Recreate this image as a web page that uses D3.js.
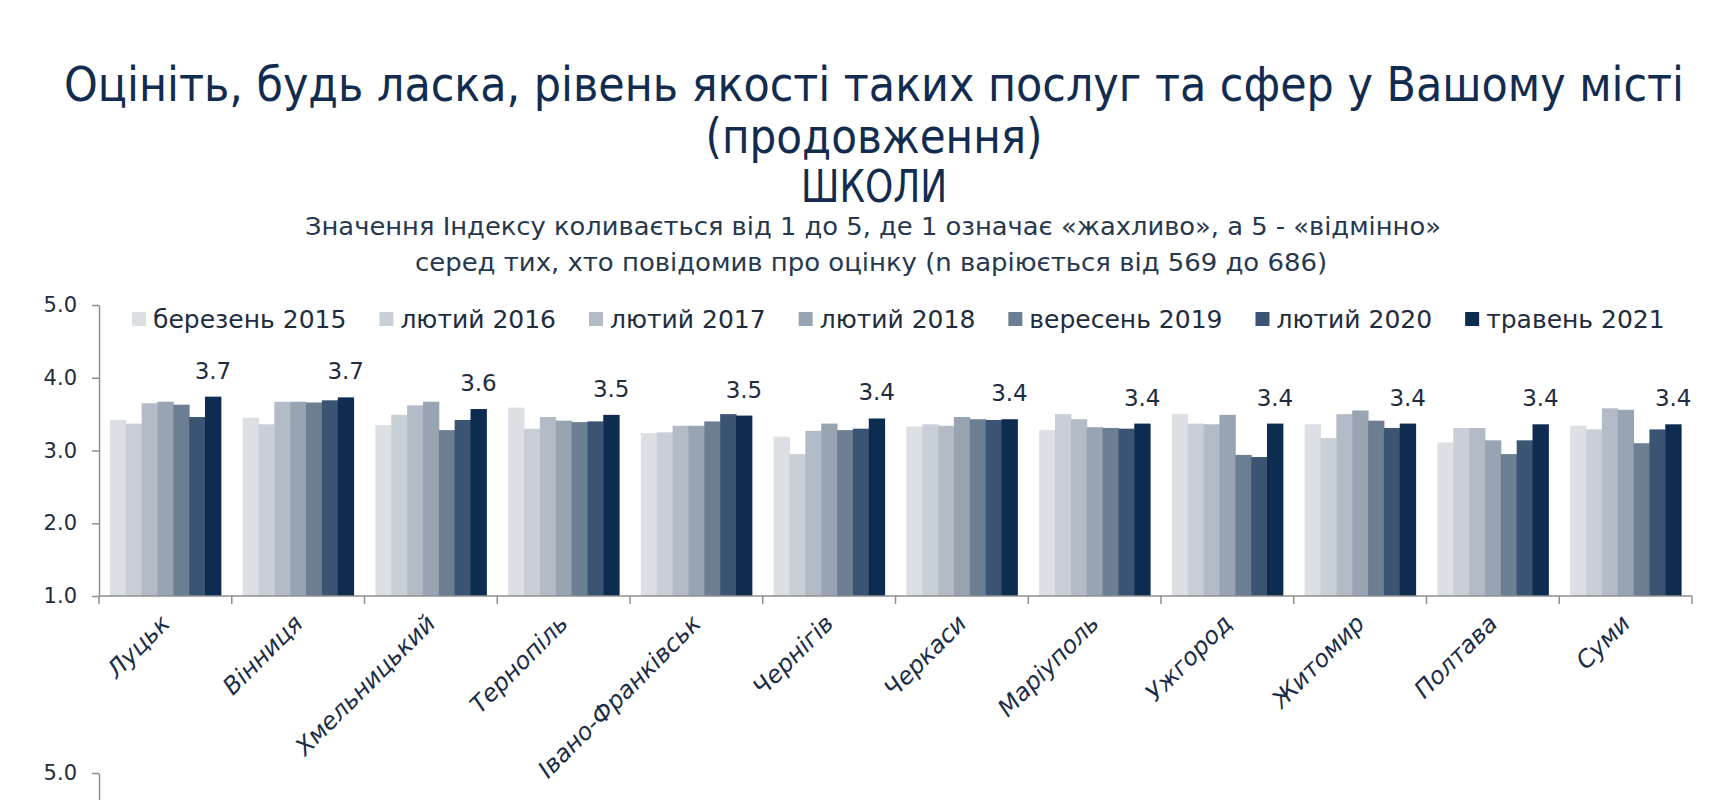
<!DOCTYPE html>
<html>
<head>
<meta charset="utf-8">
<script src="https://cdn.jsdelivr.net/npm/d3@7"></script>
<style>
  body { margin: 0; background: #fff; }
  svg { display: block; }
  .axis path, .axis line { stroke: #8f8f8f; stroke-width: 1.5; }
</style>
</head>
<body>
<div id="chart"></div>
<script>
// data
const cities = ["Луцьк", "Вінниця", "Хмельницький", "Тернопіль", "Івано-Франківськ", "Чернігів",
  "Черкаси", "Маріуполь", "Ужгород", "Житомир", "Полтава", "Суми"];
const waves = ["березень 2015", "лютий 2016", "лютий 2017", "лютий 2018", "вересень 2019", "лютий 2020", "травень 2021"];

const mar2015 = [3.42, 3.45, 3.35, 3.59, 3.24, 3.19, 3.33, 3.28, 3.50, 3.36, 3.11, 3.34];
const feb2016 = [3.37, 3.36, 3.49, 3.30, 3.25, 2.95, 3.36, 3.50, 3.37, 3.17, 3.31, 3.29];
const feb2017 = [3.65, 3.67, 3.62, 3.46, 3.34, 3.27, 3.34, 3.43, 3.36, 3.50, 3.31, 3.58];
const feb2018 = [3.67, 3.67, 3.67, 3.41, 3.34, 3.37, 3.46, 3.32, 3.49, 3.55, 3.14, 3.56];
const sep2019 = [3.63, 3.66, 3.28, 3.39, 3.40, 3.28, 3.43, 3.31, 2.94, 3.41, 2.95, 3.10];
const feb2020 = [3.46, 3.69, 3.42, 3.40, 3.50, 3.30, 3.42, 3.30, 2.91, 3.31, 3.14, 3.29];
const may2021 = [3.74, 3.73, 3.57, 3.49, 3.48, 3.44, 3.43, 3.37, 3.37, 3.37, 3.36, 3.36];
const series = [mar2015, feb2016, feb2017, feb2018, sep2019, feb2020, may2021];

const yTicks = [1, 2, 3, 4, 5];

const titleLines = ["Оцініть, будь ласка, рівень якості таких послуг та сфер у Вашому місті", "(продовження)", "ШКОЛИ"];
const subtitleLines = ["Значення Індексу коливається від 1 до 5, де 1 означає «жахливо», а 5 - «відмінно»",
  "серед тих, хто повідомив про оцінку (n варіюється від 569 до 686)"];

const colors = ["#dce0e5", "#c9cfd6", "#b3bcc6", "#98a4b2", "#6b7e92", "#3c5473", "#0e2b50"];

const width = 1732, height = 800;
const margin = {top: 305, left: 99, right: 40, bottom: 204};

const condensed = '"DejaVu Sans Condensed", "Liberation Sans Narrow", "DejaVu Sans", sans-serif';
const plain = '"DejaVu Sans", Verdana, sans-serif';

const svg = d3.select("#chart")
  .append("svg")
  .attr("width", width)
  .attr("height", height);

// titles
const titleBase = [101, 153, 202];
const titleSize = [48, 48, 44];
const titleWidth = [1620, 337, 146];
svg.selectAll("text.title")
  .data(titleLines)
  .enter()
  .append("text")
    .attr("class", "title")
    .attr("x", 874)
    .attr("y", (d, i) => titleBase[i])
    .attr("text-anchor", "middle")
    .style("font-family", condensed)
    .style("font-size", (d, i) => titleSize[i] + "px")
    .attr("fill", "#122c50")
    .text(d => d)
    .each(function(d, i) {
      const len = this.getComputedTextLength();
      if (Math.abs(len - titleWidth[i]) > 4) {
        d3.select(this).attr("textLength", titleWidth[i]).attr("lengthAdjust", "spacingAndGlyphs");
      }
    });

const subBase = [235, 271];
const subCenter = [873, 871];
const subWidth = [1136, 912];
svg.selectAll("text.subtitle")
  .data(subtitleLines)
  .enter()
  .append("text")
    .attr("class", "subtitle")
    .attr("x", (d, i) => subCenter[i])
    .attr("y", (d, i) => subBase[i])
    .attr("text-anchor", "middle")
    .style("font-family", condensed)
    .style("font-size", "25px")
    .attr("fill", "#26384f")
    .text(d => d)
    .each(function(d, i) {
      const len = this.getComputedTextLength();
      if (Math.abs(len - subWidth[i]) > 4) {
        d3.select(this).attr("textLength", subWidth[i]).attr("lengthAdjust", "spacingAndGlyphs");
      }
    });

// scales
const x0 = d3.scaleBand()
  .domain(cities)
  .range([margin.left, width - margin.right])
  .paddingInner(0.164)
  .paddingOuter(0.082);

const x1 = d3.scaleBand()
  .domain(d3.range(waves.length))
  .range([0, x0.bandwidth()]);

const yScale = d3.scaleLinear()
  .domain([1, 5])
  .range([height - margin.bottom, margin.top]);

const color = d3.scaleOrdinal().domain(waves).range(colors);

// bars
const groups = svg.selectAll("g.city")
  .data(cities)
  .enter()
  .append("g")
    .attr("class", "city")
    .attr("transform", d => `translate(${x0(d)},0)`);

groups.selectAll("rect")
  .data((c, ci) => series.map((s, si) => ({si: si, v: s[ci]})))
  .enter()
  .append("rect")
    .attr("x", d => x1(d.si))
    .attr("width", x1.bandwidth() + 0.5)
    .attr("y", d => yScale(d.v))
    .attr("height", d => yScale(1) - yScale(d.v))
    .attr("fill", d => colors[d.si]);

// value labels for the latest wave
const last = series.length - 1;
groups.append("text")
  .attr("x", x1(last) + x1.bandwidth() / 2)
  .attr("y", (c, ci) => yScale(series[last][ci]) - 18)
  .attr("text-anchor", "middle")
  .style("font-family", plain)
  .style("font-size", "23px")
  .attr("fill", "#1e2c3e")
  .text((c, ci) => series[last][ci].toFixed(1));

// y axis
const yAxis = svg.append("g")
  .attr("class", "axis")
  .attr("transform", `translate(${margin.left},0)`)
  .call(d3.axisLeft(yScale).tickValues(yTicks).tickFormat(d3.format(".1f")).tickSize(7).tickSizeOuter(0).tickPadding(15));
yAxis.selectAll("text")
  .style("font-family", plain)
  .style("font-size", "21px")
  .attr("fill", "#1e2c3e");

// x axis: line plus ticks at group borders
const step = x0.step();
const borders = cities.map(c => x0(c) - x0.paddingInner() * step / 2).concat([x0.range()[1]]);
const xAxis = svg.append("g").attr("class", "axis");
xAxis.append("line")
  .attr("x1", margin.left).attr("x2", x0.range()[1])
  .attr("y1", yScale(1)).attr("y2", yScale(1));
xAxis.selectAll("line.tick")
  .data(borders)
  .enter()
  .append("line")
    .attr("class", "tick")
    .attr("x1", d => d).attr("x2", d => d)
    .attr("y1", yScale(1)).attr("y2", yScale(1) + 8);

svg.selectAll("text.cityLabel")
  .data(cities)
  .enter()
  .append("text")
    .attr("class", "cityLabel")
    .attr("transform", d => `translate(${x0(d) + x0.bandwidth() / 2 + 6},${yScale(1) + 29}) rotate(-45)`)
    .attr("text-anchor", "end")
    .style("font-family", plain)
    .style("font-style", "italic")
    .style("font-size", "24px")
    .attr("fill", "#1b2c47")
    .text(d => d);

// legend
const legend = svg.append("g").attr("class", "legend");
let lx = 132;
waves.forEach(function(w, i) {
  legend.append("rect")
    .attr("x", lx).attr("y", 312)
    .attr("width", 14).attr("height", 14)
    .attr("fill", color(w));
  const t = legend.append("text")
    .attr("x", lx + 21).attr("y", 319)
    .attr("dy", "0.36em")
    .style("font-family", plain)
    .style("font-size", "25px")
    .attr("fill", "#1e2c3e")
    .text(w);
  lx += 21 + t.node().getComputedTextLength() + 33;
});

// top of the next chart peeking in at the bottom
const yNext = d3.scaleLinear().domain([4, 5]).range([846, 773]);
const nextAxis = svg.append("g")
  .attr("class", "axis")
  .attr("transform", `translate(${margin.left},0)`)
  .call(d3.axisLeft(yNext).tickValues([5]).tickFormat(d3.format(".1f")).tickSize(7).tickSizeOuter(0).tickPadding(15));
nextAxis.selectAll("text")
  .style("font-family", plain)
  .style("font-size", "21px")
  .attr("fill", "#1e2c3e");
</script>
</body>
</html>
